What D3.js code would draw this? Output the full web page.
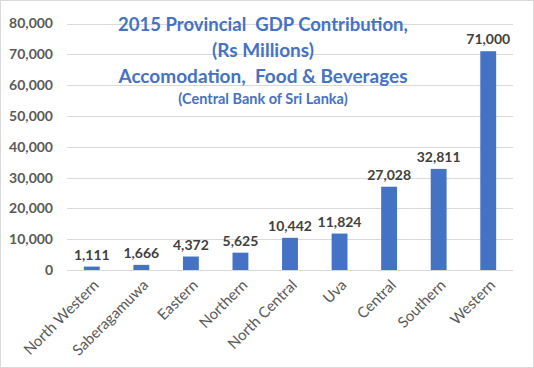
<!DOCTYPE html>
<html><head><meta charset="utf-8">
<script src="https://cdn.jsdelivr.net/npm/d3@7"></script>
<style>body{margin:0;background:#fff}svg{display:block}</style>
</head><body>
<script>
const categories = ["North Western","Saberagamuwa","Eastern","Northern","North Central","Uva","Central","Southern","Western"];
const values = [1111,1666,4372,5625,10442,11824,27028,32811,71000];
const yTicks = [0,10000,20000,30000,40000,50000,60000,70000,80000];
const titleLines = ["2015 Provincial  GDP Contribution,","(Rs Millions)","Accomodation,  Food & Beverages","(Central Bank of Sri Lanka)"];

const W = 534, H = 368;
const svg = d3.select("body").append("svg").attr("width", W).attr("height", H);
svg.append("rect").attr("x",0.5).attr("y",0.5).attr("width",W-1).attr("height",H-1)
  .attr("fill","#fff").attr("stroke","#d9d9d9");

const x = d3.scaleBand().domain(categories).range([67, 513]).paddingInner(0.68).paddingOuter(0.34);
const y = d3.scaleLinear().domain([0, 80000]).range([270, 23.5]);
const font = "Lato, 'Open Sans', sans-serif";

// gridlines
svg.append("g").selectAll("line").data(yTicks).join("line")
  .attr("x1", 67).attr("x2", 513)
  .attr("y1", d => Math.round(y(d)) + 0.5).attr("y2", d => Math.round(y(d)) + 0.5)
  .attr("stroke", "#d9d9d9").attr("stroke-width", 1);

// y axis labels
const yAxis = d3.axisLeft(y).tickValues(yTicks).tickFormat(d3.format(",")).tickSize(0).tickPadding(0);
const ya = svg.append("g").attr("transform", "translate(53,0)").call(yAxis);
ya.select(".domain").remove();
ya.selectAll("text").attr("font-family", font).attr("font-size", 14).attr("font-weight", "bold").attr("fill", "#595959");

// bars
svg.append("g").selectAll("rect").data(values).join("rect")
  .attr("x", (d,i) => x(categories[i])).attr("width", x.bandwidth())
  .attr("y", d => y(d)).attr("height", d => y(0) - y(d))
  .attr("fill", "#4472c4");

// data labels
svg.append("g").selectAll("text").data(values).join("text")
  .attr("x", (d,i) => x(categories[i]) + x.bandwidth()/2)
  .attr("y", d => y(d) - 7)
  .attr("text-anchor", "middle")
  .attr("font-family", font).attr("font-size", 14).attr("font-weight", "bold").attr("fill", "#404040")
  .text(d => d3.format(",")(d));

// x axis line
svg.append("line").attr("x1",67).attr("x2",513).attr("y1",270.5).attr("y2",270.5).attr("stroke","#d9d9d9");

// x labels
const xAxis = d3.axisBottom(x).tickSize(0).tickPadding(0);
const xa = svg.append("g").attr("transform", "translate(0,270)").call(xAxis);
xa.select(".domain").remove();
xa.selectAll("text")
  .attr("font-family", font).attr("font-size", 15).attr("fill", "#595959")
  .attr("text-anchor", "end").attr("dy", null).attr("y", 0)
  .attr("transform", "translate(8,16) rotate(-45)");

// title
const tsizes = [18.5, 19, 19, 14.5];
const tys = [31, 57, 83, 104];
svg.append("g").selectAll("text").data(titleLines).join("text")
  .attr("x", 263).attr("y", (d,i) => tys[i])
  .attr("text-anchor", "middle")
  .attr("font-family", font).attr("font-weight", "bold")
  .attr("font-size", (d,i) => tsizes[i]).attr("fill", "#4472c4")
  .style("white-space", "pre")
  .text(d => d);
</script>
</body></html>
